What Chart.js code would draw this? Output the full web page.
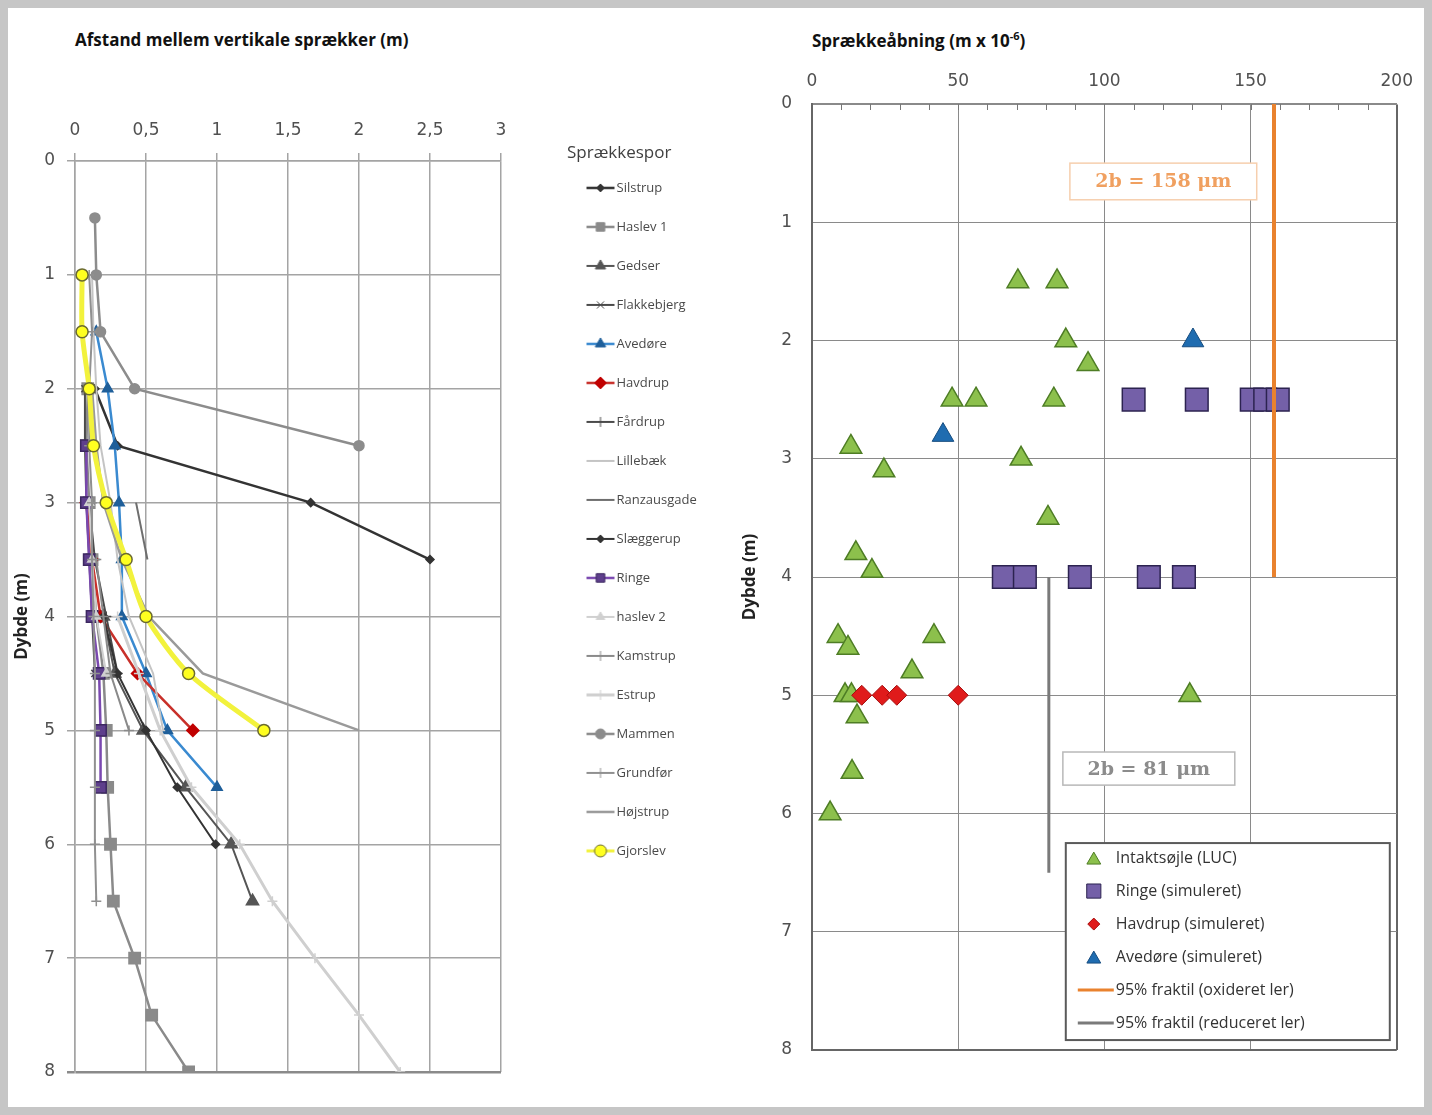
<!DOCTYPE html>
<html>
<head>
<meta charset="utf-8">
<script src="https://cdn.jsdelivr.net/npm/chart.js"></script>
<style>
  html, body { margin: 0; padding: 0; }
  body { width: 1432px; height: 1115px; background: #c6c6c6; position: relative; overflow: hidden; font-family: "Open Sans", sans-serif; }
  #frame { position: absolute; left: 8px; top: 8px; width: 1416px; height: 1099px; background: #fff; }
  .title { position: absolute; top: 28px; font-weight: bold; font-size: 17px; color: #111; white-space: nowrap; }
  .title sup { font-size: 11px; }
  #left-wrap { position: absolute; left: 8px; top: 95px; width: 722px; height: 1000px; }
  #right-wrap { position: absolute; left: 735px; top: 55px; width: 690px; height: 1045px; }
</style>
</head>
<body>
<div id="frame"></div>
<div class="title" style="left:75px">Afstand mellem vertikale sprækker (m)</div>
<div class="title" style="left:812px">Sprækkeåbning (m x 10<sup>-6</sup>)</div>
<div id="left-wrap"><canvas id="spacing"></canvas></div>
<div id="right-wrap"><canvas id="opening"></canvas></div>
<script>
const _ = null;

// left chart: depth levels (m) and spacing (m) per fracture log
const depths      = [0.5, 1, 1.5, 2, 2.5, 3, 3.5, 4, 4.5, 5, 5.5, 6, 6.5, 7, 7.5, 8];
const silstrup    = [_, _, _, 0.14, 0.3, 1.66, 2.5, _, _, _, _, _, _, _, _, _];
const haslev1     = [_, _, _, 0.09, 0.08, 0.1, 0.12, 0.15, 0.2, 0.22, 0.23, 0.25, 0.27, 0.42, 0.54, 0.8];
const gedser      = [_, _, _, _, _, _, _, 0.2, 0.28, 0.48, 0.78, 1.1, 1.25, _, _, _];
const flakkebjerg = [_, _, _, 0.07, 0.07, 0.08, 0.1, 0.12, 0.14, _, _, _, _, _, _, _];
const avedore     = [_, _, 0.15, 0.23, 0.28, 0.31, 0.33, 0.33, 0.5, 0.65, 1.0, _, _, _, _, _];
const havdrup     = [_, _, _, _, _, 0.08, 0.12, 0.18, 0.44, 0.83, _, _, _, _, _, _];
const fardrup     = [_, _, _, _, _, 0.1, 0.14, 0.22, 0.3, _, _, _, _, _, _, _];
const lillebaek   = [_, 0.12, 0.13, 0.15, 0.18, 0.25, 0.3, 0.38, 0.55, 0.62, _, _, _, _, _, _];
const ranzausgade = [_, _, _, _, _, 0.43, 0.51, _, _, _, _, _, _, _, _, _];
const slaeggerup  = [_, _, _, _, _, _, _, 0.2, 0.3, 0.5, 0.72, 0.99, _, _, _, _];
const ringe       = [_, _, _, _, 0.08, 0.08, 0.1, 0.12, 0.17, 0.18, 0.18, _, _, _, _, _];
const haslev2     = [_, _, _, _, _, 0.1, 0.12, 0.15, 0.22, _, _, _, _, _, _, _];
const kamstrup    = [_, _, _, _, _, _, 0.15, 0.2, 0.25, 0.38, _, _, _, _, _, _];
const estrup      = [_, _, _, _, _, _, _, 0.3, 0.45, 0.6, 0.82, 1.16, 1.39, 1.69, 2.0, 2.29];
const mammen      = [0.14, 0.15, 0.18, 0.42, 2.0, _, _, _, _, _, _, _, _, _, _, _];
const grundfor    = [_, 0.1, 0.12, 0.1, 0.1, 0.12, 0.12, 0.13, 0.14, 0.14, 0.14, 0.14, 0.15, _, _, _];
const hojstrup    = [_, _, _, 0.12, 0.15, 0.2, 0.33, 0.52, 0.9, 2.0, _, _, _, _, _, _];
const gjorslev    = [_, 0.05, 0.05, 0.1, 0.13, 0.22, 0.36, 0.5, 0.8, 1.33, _, _, _, _, _, _];

// right chart: fracture aperture (um) against depth (m)
const lucOpening     = [70.4, 83.8, 86.8, 94.4, 47.9, 56.1, 82.7, 13.3, 71.5, 24.6, 80.7, 15, 20.5, 8.9, 41.7, 12.3, 34.2, 11.3, 13.5, 129.2, 15.4, 13.7, 6.2];
const lucDepth       = [1.5, 1.5, 2.0, 2.2, 2.5, 2.5, 2.5, 2.9, 3.0, 3.1, 3.5, 3.8, 3.95, 4.5, 4.5, 4.6, 4.8, 5.0, 5.0, 5.0, 5.18, 5.65, 6.0];
const ringeOpening   = [110, 131.6, 150.4, 155, 159.3, 65.6, 72.8, 91.6, 115.2, 127.2];
const ringeDepth     = [2.5, 2.5, 2.5, 2.5, 2.5, 4, 4, 4, 4, 4];
const havdrupOpening = [17, 24, 29, 50];
const havdrupDepth   = [5, 5, 5, 5];
const avedoreOpening = [130.3, 44.8];
const avedoreDepth   = [2.0, 2.8];
const oxidLimit = 158;
const oxidDepth = [0, 4];
const reducLimit = 81;
const reducDepth = [4, 6.5];

const tickFont = { family: "DejaVu Sans", size: 17 };
const comma = v => String(v).replace('.', ',');

function pairs(values) {
  return depths.map((d, i) => ({ x: values[i], y: d })).filter(p => p.x !== null);
}
function zip(xs, ys) {
  return xs.map((x, i) => ({ x, y: ys[i] }));
}

const leftSeries = [
  ['Silstrup', silstrup, { line: '#333333', style: 'rectRot', r: 4, w: 2.5 }],
  ['Haslev 1', haslev1, { line: '#8a8a8a', style: 'rect', r: 8, w: 2.5 }],
  ['Gedser', gedser, { line: '#555555', style: 'triangle', r: 7 }],
  ['Flakkebjerg', flakkebjerg, { line: '#4a4a4a', style: 'crossRot', r: 5 }],
  ['Avedøre', avedore, { line: '#3a8ad0', style: 'triangle', r: 6, fill: '#1f5f9a', edge: '#1f5f9a', w: 2.5 }],
  ['Havdrup', havdrup, { line: '#c8302a', style: 'rectRot', r: 6, fill: '#c00000', edge: '#c00000', w: 2.5 }],
  ['Fårdrup', fardrup, { line: '#4a4a4a', style: 'cross', r: 5 }],
  ['Lillebæk', lillebaek, { line: '#c4c4c4' }],
  ['Ranzausgade', ranzausgade, { line: '#6e6e6e' }],
  ['Slæggerup', slaeggerup, { line: '#333333', style: 'rectRot', r: 4 }],
  ['Ringe', ringe, { line: '#7a48b0', style: 'rect', r: 8, fill: '#5e3f8c', edge: '#3c2860', w: 2.5 }],
  ['haslev 2', haslev2, { line: '#d0d0d0', style: 'triangle', r: 5 }],
  ['Kamstrup', kamstrup, { line: '#8a8a8a', style: 'cross', r: 5 }],
  ['Estrup', estrup, { line: '#cfcfcf', style: 'cross', r: 5, w: 3 }],
  ['Mammen', mammen, { line: '#8c8c8c', style: 'circle', r: 5, w: 2.5 }],
  ['Grundfør', grundfor, { line: '#909090', style: 'cross', r: 5 }],
  ['Højstrup', hojstrup, { line: '#9a9a9a', w: 2.5 }],
  ['Gjorslev', gjorslev, { line: '#f2f23c', style: 'circle', r: 6, fill: '#ffff20', edge: '#6a6a30', w: 5, t: 0.25 }],
];

const leftDatasets = leftSeries.map(([label, values, s], i) => ({
  label,
  data: pairs(values),
  showLine: true,
  tension: s.t || 0,
  borderColor: s.line,
  backgroundColor: s.fill || s.line,
  borderWidth: s.w || 2,
  pointStyle: s.style || 'circle',
  pointRadius: s.style ? s.r : 0,
  pointBackgroundColor: s.fill || s.line,
  pointBorderColor: s.edge || s.line,
  pointBorderWidth: 1.5,
  order: leftSeries.length - i,
}));

function markerIcon(ds) {
  const c = document.createElement('canvas');
  c.width = 36; c.height = 16;
  const g = c.getContext('2d');
  g.strokeStyle = ds.borderColor;
  g.lineWidth = Math.min(ds.borderWidth, 3);
  g.beginPath(); g.moveTo(3, 8); g.lineTo(31, 8); g.stroke();
  if (ds.pointRadius > 0) {
    g.fillStyle = ds.pointBackgroundColor;
    g.strokeStyle = ds.pointBorderColor;
    g.lineWidth = 1;
    Chart.helpers.drawPoint(g, { pointStyle: ds.pointStyle, radius: Math.min(ds.pointRadius, 6), rotation: 0, borderWidth: 1 }, 17, 8);
  }
  return c;
}
const legendIcons = leftDatasets.map(markerIcon);

// keeps the built-in legend at a fixed width and nudges it to its spot
const legendSpot = {
  id: 'legendSpot',
  beforeInit(chart, args, opts) {
    const legend = chart.legend;
    const fit = legend.fit;
    legend.fit = function () { fit.call(this); this.width = opts.width; };
  },
  afterLayout(chart, args, opts) {
    const l = chart.legend;
    l.left += opts.dx; l.right += opts.dx;
    l.top += opts.dy; l.bottom += opts.dy;
  }
};

new Chart(document.getElementById('spacing'), {
  type: 'scatter',
  data: { datasets: leftDatasets },
  plugins: [legendSpot],
  options: {
    responsive: true,
    maintainAspectRatio: false,
    animation: false,
    layout: { padding: { top: 0, right: 0, bottom: 23, left: 0 } },
    scales: {
      x: {
        position: 'top', min: 0, max: 3,
        ticks: { stepSize: 0.5, callback: comma, color: '#505050', font: tickFont, padding: 12 },
        grid: { color: '#a4a4a4', lineWidth: 1.5, tickLength: 8 },
        border: { color: '#a4a4a4', width: 1.5 },
        afterFit(s) { s.height = 66; }
      },
      y: {
        reverse: true, min: 0, max: 8,
        ticks: { stepSize: 1, color: '#505050', font: tickFont, padding: 12 },
        grid: { color: ctx => ctx.tick && ctx.tick.value === 8 ? '#8a8a8a' : '#a4a4a4', lineWidth: ctx => ctx.tick && ctx.tick.value === 8 ? 2.5 : 1.5, tickLength: 8 },
        border: { color: '#a4a4a4', width: 1.5 },
        title: { display: true, text: 'Dybde (m)', color: '#222', font: { family: 'Open Sans', size: 17, weight: 'bold' }, padding: { top: 4, bottom: 0 } },
        afterFit(s) { s.width = 67; }
      }
    },
    plugins: {
      tooltip: { enabled: false },
      legendSpot: { width: 229, dx: 66, dy: 50 },
      legend: {
        position: 'right',
        align: 'start',
        title: { display: true, text: 'Sprækkespor', color: '#404040', font: { family: 'Open Sans', size: 17 }, position: 'start', padding: { top: 0, bottom: -10 } },
        labels: {
          usePointStyle: true,
          pointStyleWidth: 17,
          padding: 26,
          color: '#4a4a4a',
          font: { family: 'Open Sans', size: 13 },
          sort: (a, b) => a.datasetIndex - b.datasetIndex,
          generateLabels(chart) {
            const items = Chart.defaults.plugins.legend.labels.generateLabels(chart);
            items.forEach(it => { it.pointStyle = legendIcons[it.datasetIndex]; });
            return items;
          }
        }
      }
    }
  }
});

const rightDatasets = [
  { label: 'Intaktsøjle (LUC)', data: zip(lucOpening, lucDepth), pointStyle: 'triangle', pointRadius: 12.5, backgroundColor: '#8cc04c', borderColor: '#4e7d25', borderWidth: 1.5, legendRadius: 8 },
  { label: 'Ringe (simuleret)', data: zip(ringeOpening, ringeDepth), pointStyle: 'rect', pointRadius: 16, backgroundColor: '#7460a8', borderColor: '#2c2350', borderWidth: 1.5, legendRadius: 10 },
  { label: 'Havdrup (simuleret)', data: zip(havdrupOpening, havdrupDepth), pointStyle: 'rectRot', pointRadius: 10, backgroundColor: '#e01b1b', borderColor: '#a50e0e', borderWidth: 1, legendRadius: 6 },
  { label: 'Avedøre (simuleret)', data: zip(avedoreOpening, avedoreDepth), pointStyle: 'triangle', pointRadius: 12.5, backgroundColor: '#1f6cb0', borderColor: '#174d80', borderWidth: 1, legendRadius: 8 },
  { label: '95% fraktil (oxideret ler)', data: oxidDepth.map(d => ({ x: oxidLimit, y: d })), showLine: true, borderColor: '#e9822e', borderWidth: 4, pointRadius: 0 },
  { label: '95% fraktil (reduceret ler)', data: reducDepth.map(d => ({ x: reducLimit, y: d })), showLine: true, borderColor: '#7a7a7a', borderWidth: 3, pointRadius: 0 },
].map((ds, i, all) => ({ ...ds, order: all.length - i }));

// minor ticks, the two value boxes and the framed legend inside the plot
const openingExtras = {
  id: 'openingExtras',
  afterDatasetsDraw(chart, args, opts) {
    const { ctx, chartArea, scales: { x, y } } = chart;
    ctx.save();
    ctx.strokeStyle = '#777'; ctx.lineWidth = 1;
    for (let v = x.min + opts.minorStep; v < x.max; v += opts.minorStep) {
      const px = Math.round(x.getPixelForValue(v)) + 0.5;
      ctx.beginPath(); ctx.moveTo(px, chartArea.top); ctx.lineTo(px, chartArea.top + 6); ctx.stroke();
    }
    for (const b of opts.boxes) {
      const l = x.getPixelForValue(b.x0), r = x.getPixelForValue(b.x1);
      const t = y.getPixelForValue(b.y0), bt = y.getPixelForValue(b.y1);
      ctx.fillStyle = '#fff'; ctx.fillRect(l, t, r - l, bt - t);
      ctx.strokeStyle = b.border; ctx.lineWidth = 1.5; ctx.strokeRect(l, t, r - l, bt - t);
      ctx.fillStyle = b.color; ctx.font = 'bold 19px "DejaVu Serif"';
      ctx.textAlign = 'center'; ctx.textBaseline = 'middle';
      ctx.fillText(b.text, (l + r) / 2, (t + bt) / 2 + 1);
    }
    const lg = opts.legend;
    const lx = x.getPixelForValue(lg.x), ly = y.getPixelForValue(lg.y);
    ctx.fillStyle = '#fff'; ctx.fillRect(lx, ly, lg.width, lg.height);
    ctx.strokeStyle = '#5a5a5a'; ctx.lineWidth = 2; ctx.strokeRect(lx, ly, lg.width, lg.height);
    ctx.font = '16px "Open Sans"'; ctx.textAlign = 'left'; ctx.textBaseline = 'middle';
    chart.data.datasets.forEach((ds, i) => {
      const cy = ly + lg.firstRow + i * lg.rowHeight;
      if (ds.pointRadius > 0) {
        ctx.fillStyle = ds.backgroundColor; ctx.strokeStyle = ds.borderColor; ctx.lineWidth = 1;
        Chart.helpers.drawPoint(ctx, { pointStyle: ds.pointStyle, radius: ds.legendRadius, rotation: 0, borderWidth: 1 }, lx + 28, cy + (ds.pointStyle === 'triangle' ? 2 : 0));
      } else {
        ctx.strokeStyle = ds.borderColor; ctx.lineWidth = 3;
        ctx.beginPath(); ctx.moveTo(lx + 12, cy); ctx.lineTo(lx + 48, cy); ctx.stroke();
      }
      ctx.fillStyle = '#333';
      ctx.fillText(ds.label, lx + 50, cy);
    });
    ctx.restore();
  }
};

new Chart(document.getElementById('opening'), {
  type: 'scatter',
  data: { datasets: rightDatasets },
  plugins: [openingExtras],
  options: {
    responsive: true,
    maintainAspectRatio: false,
    animation: false,
    layout: { padding: { top: 0, right: 0, bottom: 50, left: 0 } },
    scales: {
      x: {
        position: 'top', min: 0, max: 200,
        ticks: { stepSize: 50, color: '#505050', font: tickFont, padding: 12 },
        grid: { color: ctx => ctx.tick && ctx.tick.value === 200 ? '#666' : '#8a8a8a', lineWidth: ctx => ctx.tick && ctx.tick.value === 200 ? 2 : 1, drawTicks: false },
        border: { color: '#8a8a8a', width: 1.5 },
        afterFit(s) { s.height = 49; }
      },
      y: {
        reverse: true, min: 0, max: 8,
        ticks: { stepSize: 1, color: '#505050', font: tickFont, padding: 20 },
        grid: { color: ctx => ctx.tick && ctx.tick.value === 8 ? '#666' : '#8a8a8a', lineWidth: ctx => ctx.tick && ctx.tick.value === 8 ? 2 : 1, drawTicks: false },
        border: { color: '#666', width: 2 },
        title: { display: true, text: 'Dybde (m)', color: '#222', font: { family: 'Open Sans', size: 17, weight: 'bold' }, padding: { top: 5, bottom: 0 } },
        afterFit(s) { s.width = 77; }
      }
    },
    plugins: {
      tooltip: { enabled: false },
      legend: { display: false },
      openingExtras: {
        minorStep: 10,
        boxes: [
          { x0: 88.2, x1: 152.1, y0: 0.5, y1: 0.81, text: '2b = ' + oxidLimit + ' μm', color: '#f0a060', border: '#f6cfae' },
          { x0: 85.8, x1: 144.6, y0: 5.48, y1: 5.76, text: '2b = ' + reducLimit + ' μm', color: '#8c8c8c', border: '#b8b8b8' }
        ],
        legend: { x: 86.8, y: 6.25, width: 324, height: 197, firstRow: 15, rowHeight: 33 }
      }
    }
  }
});
</script>
</body>
</html>
